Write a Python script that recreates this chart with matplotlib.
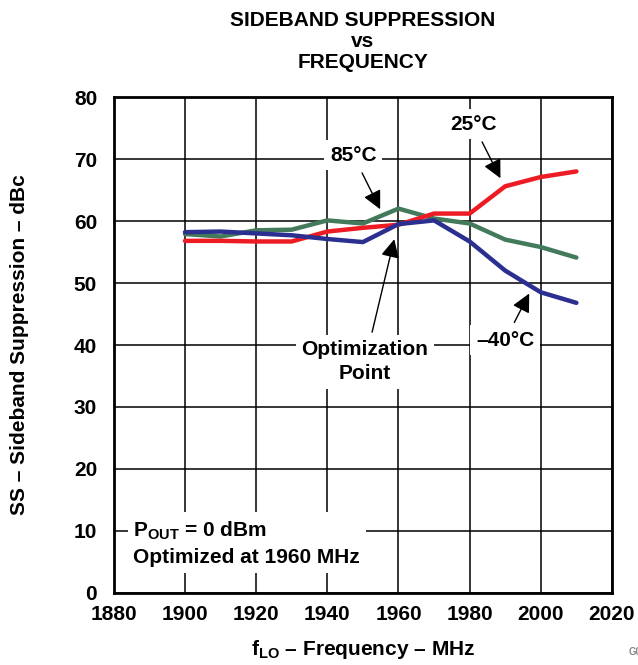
import matplotlib.pyplot as plt

plt.rcParams['font.family'] = ['Liberation Sans', 'DejaVu Sans']
plt.rcParams['font.weight'] = 'bold'
plt.rcParams['mathtext.fontset'] = 'custom'
plt.rcParams['mathtext.rm'] = 'Liberation Sans:bold'
plt.rcParams['mathtext.bf'] = 'Liberation Sans:bold'

# frequency points (MHz)
freq = [1900, 1910, 1920, 1930, 1940, 1950, 1960, 1970, 1980, 1990, 2000, 2010]

# sideband suppression (dBc) per temperature
ss_25c = [56.8, 56.8, 56.7, 56.7, 58.3, 58.9, 59.4, 61.2, 61.2, 65.6, 67.1, 68.0]
ss_85c = [57.9, 57.5, 58.5, 58.6, 60.1, 59.6, 62.0, 60.4, 59.6, 57.0, 55.8, 54.1]
ss_m40c = [58.2, 58.3, 58.0, 57.7, 57.1, 56.6, 59.5, 60.1, 56.7, 52.0, 48.5, 46.8]

xticks = [1880, 1900, 1920, 1940, 1960, 1980, 2000, 2020]
yticks = [0, 10, 20, 30, 40, 50, 60, 70, 80]

red = '#ed1c24'
green = '#447a5c'
blue = '#2b2f8f'

fs = 15

fig = plt.figure(figsize=(6.38, 6.65), dpi=100)
ax = fig.add_axes([0.1784, 0.1083, 0.7808, 0.7458])

ax.plot(freq, ss_85c, color=green, lw=3.2, solid_capstyle='round', zorder=3)
ax.plot(freq, ss_25c, color=red, lw=3.2, solid_capstyle='round', zorder=4)
ax.plot(freq, ss_m40c, color=blue, lw=3.2, solid_capstyle='round', zorder=5)

ax.set_xlim(1880, 2020)
ax.set_ylim(0, 80)
ax.set_xticks(xticks)
ax.set_yticks(yticks)
ax.tick_params(length=0, labelsize=fs)
ax.tick_params(axis='x', pad=9)
ax.tick_params(axis='y', pad=12)
for lab in ax.get_xticklabels() + ax.get_yticklabels():
    lab.set_fontweight('bold')
ax.grid(True, color='black', lw=1.1)
ax.set_axisbelow(True)
for s in ax.spines.values():
    s.set_linewidth(2)

ax.set_xlabel('f$_{\\mathrm{LO}}$ – Frequency – MHz', fontsize=fs, fontweight='bold', labelpad=10)
ax.set_ylabel('SS – Sideband Suppression – dBc', fontsize=fs, fontweight='bold')
ax.yaxis.set_label_coords(-0.17, 0.5)

fig.text(0.569, 0.938, 'SIDEBAND SUPPRESSION\nvs\nFREQUENCY', ha='center', va='center',
         fontsize=fs, fontweight='bold', linespacing=1.12)

arrow = dict(arrowstyle='-|>', color='black', lw=1, mutation_scale=28)
box = dict(facecolor='white', edgecolor='none', pad=4)

ax.annotate('25°C', xy=(1989, 66.5), xytext=(1981, 75.6), ha='center', va='center',
            fontsize=fs, fontweight='bold', arrowprops=arrow, bbox=box, zorder=6)
ax.annotate('85°C', xy=(1955.2, 61.5), xytext=(1947.3, 70.6), ha='center', va='center',
            fontsize=fs, fontweight='bold', arrowprops=arrow, bbox=box, zorder=6)
ax.annotate('Optimization\nPoint', xy=(1959, 57.5), xytext=(1950.6, 37.3), ha='center', va='center',
            fontsize=fs, fontweight='bold', arrowprops=arrow, bbox=box, zorder=6,
            linespacing=1.3)
ax.annotate('–40°C', xy=(1997.1, 48.7), xytext=(1990, 40.8), ha='center', va='center',
            fontsize=fs, fontweight='bold', arrowprops=arrow, bbox=box, zorder=6)

ax.text(1885.5, 8.0, 'P$_{\\mathrm{OUT}}$ = 0 dBm\nOptimized at 1960 MHz', ha='left', va='center',
        fontsize=fs, fontweight='bold', linespacing=1.4, bbox=box, zorder=6)

fig.text(0.985, 0.012, 'G0', fontsize=7, color='#888888', ha='left', va='bottom')

fig.savefig('out.png', dpi=100)
